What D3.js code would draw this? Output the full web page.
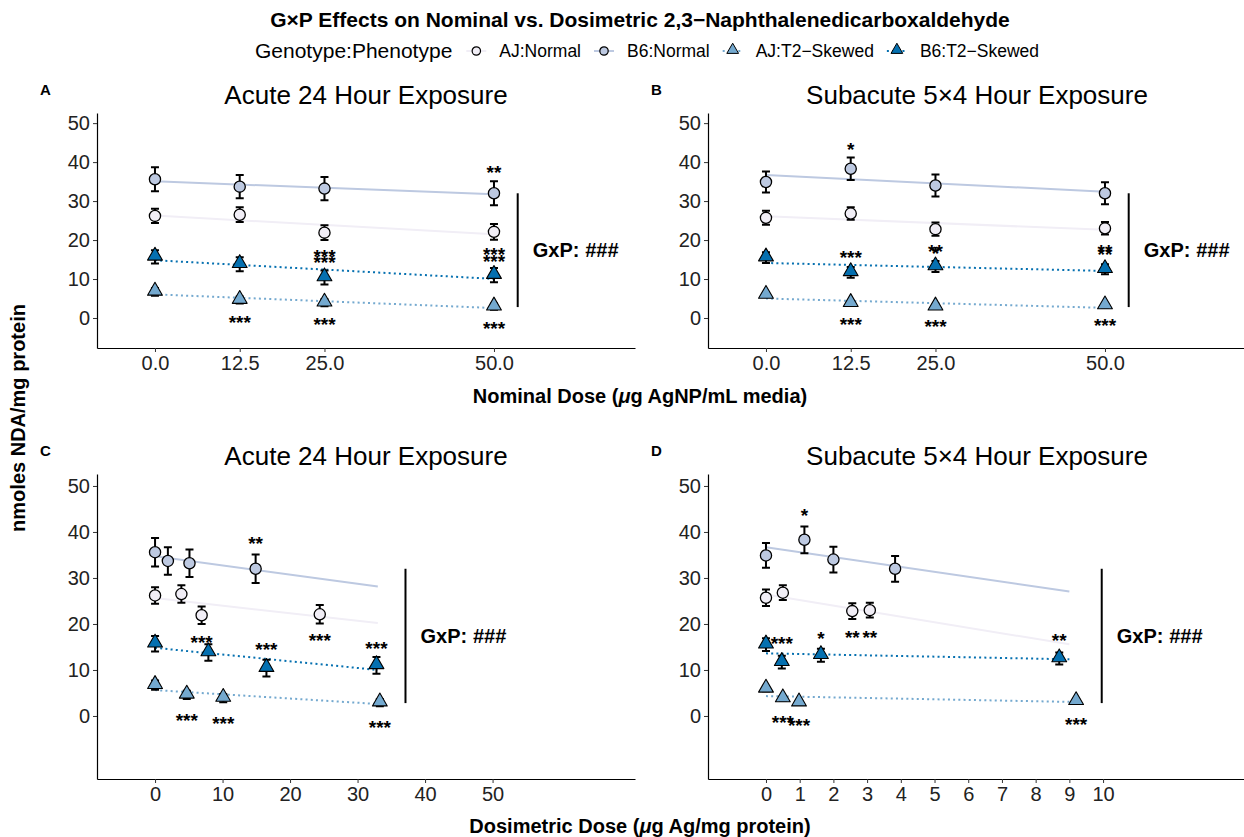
<!DOCTYPE html>
<html>
<head>
<meta charset="utf-8">
<script src="https://cdn.jsdelivr.net/npm/d3@7"></script>
<style>
  body { margin: 0; background: #fff; }
  svg { font-family: "Liberation Sans", Arial, Helvetica, sans-serif; }
</style>
</head>
<body>
<div id="chart"></div>
<script>
// group order: AJ:Normal, B6:Normal, AJ:T2-Skewed, B6:T2-Skewed
var groups = ["AJ:Normal", "B6:Normal", "AJ:T2\u2212Skewed", "B6:T2\u2212Skewed"];
var groupColors = ["#f1eef6", "#bdc9e1", "#74a9cf", "#0570b0"];

var nominalDose = [0, 12.5, 25, 50];
var nominalTicks = [0, 12.5, 25, 50];
var acuteDosTicks = [0, 10, 20, 30, 40, 50];
var subacuteDosTicks = [0, 1, 2, 3, 4, 5, 6, 7, 8, 9, 10];
var yTicks = [0, 10, 20, 30, 40, 50];

// means and standard errors (nmoles NDA/mg protein), one row per group
var acuteMean = [[26.2, 26.5, 21.9, 22.1], [35.6, 33.7, 33.2, 32.0], [6.7, 4.6, 3.9, 2.9], [15.7, 13.8, 10.4, 11.0]];
var acuteSE = [[1.8, 1.9, 1.9, 2.0], [3.1, 3.0, 3.0, 3.1], [1.0, 0.9, 0.9, 0.8], [1.7, 1.8, 1.8, 1.8]];
var subacuteMean = [[25.7, 26.8, 22.8, 23.0], [34.9, 38.3, 34.0, 32.0], [5.9, 3.8, 2.9, 3.2], [15.5, 11.7, 13.2, 12.5]];
var subacuteSE = [[1.8, 1.6, 1.7, 1.6], [2.7, 2.9, 2.8, 2.8], [0.5, 0.5, 0.5, 0.5], [1.4, 1.4, 1.4, 1.3]];

// dosimetric dose (ug Ag/mg protein) for each group at the four nominal doses
var acuteDosimetric = [[0, 3.9, 6.9, 24.4], [0, 1.9, 5.1, 14.9], [0, 4.7, 10.1, 33.3], [0, 7.9, 16.5, 32.8]];
var subacuteDosimetric = [[0, 0.5, 2.56, 3.08], [0, 1.14, 2.0, 3.83], [0, 0.5, 0.98, 9.2], [0, 0.47, 1.63, 8.7]];

// significance labels: [group, dose index, label, y]
var acuteStars = [[1, 3, "**", 38.6], [0, 2, "***", 17.2], [0, 3, "***", 17.6], [3, 2, "***", 15.6], [3, 3, "***", 15.9],
  [2, 1, "***", 0.2], [2, 2, "***", -0.4], [2, 3, "***", -1.3]];
var subacuteStars = [[1, 1, "*", 44.7], [3, 1, "***", 16.8], [3, 2, "*", 18.0], [3, 3, "**", 17.6],
  [0, 2, "**", 18.3], [0, 3, "**", 18.3], [2, 1, "***", -0.2], [2, 2, "***", -0.9], [2, 3, "***", -0.7]];

var bracketY = [2.8, 32];

var W = 1244, H = 837;
var svg = d3.select("#chart").append("svg").attr("width", W).attr("height", H);

var nominalRows = groups.map(function() { return nominalDose; });

var panels = [
  { letter: "A", title: "Acute 24 Hour Exposure", x0: 97, y0: 113, w: 538, h: 235, xDom: [-8.55, 70.8], yDom: [-7.7, 52.6],
    ticks: nominalTicks, fmt: d3.format(".1f"), xs: nominalRows, mean: acuteMean, se: acuteSE, stars: acuteStars, fitEnd: 50, brX: 53.5 },
  { letter: "B", title: "Subacute 5\u00d74 Hour Exposure", x0: 708, y0: 113, w: 538, h: 235, xDom: [-8.55, 70.8], yDom: [-7.7, 52.6],
    ticks: nominalTicks, fmt: d3.format(".1f"), xs: nominalRows, mean: subacuteMean, se: subacuteSE, stars: subacuteStars, fitEnd: 50, brX: 53.5 },
  { letter: "C", title: "Acute 24 Hour Exposure", x0: 97, y0: 474, w: 538, h: 305, xDom: [-8.6, 71.1], yDom: [-13.7, 52.6],
    ticks: acuteDosTicks, fmt: d3.format("d"), xs: acuteDosimetric, mean: acuteMean, se: acuteSE, stars: acuteStars, fitEnd: 33, brX: 37.1 },
  { letter: "D", title: "Subacute 5\u00d74 Hour Exposure", x0: 708, y0: 474, w: 538, h: 305, xDom: [-1.72, 14.24], yDom: [-13.7, 52.6],
    ticks: subacuteDosTicks, fmt: d3.format("d"), xs: subacuteDosimetric, mean: subacuteMean, se: subacuteSE, stars: subacuteStars, fitEnd: 9, brX: 9.96 }
];

function fit(xs, ys) {
  var mx = d3.mean(xs), my = d3.mean(ys);
  var b = d3.sum(xs, function(v, i) { return (v - mx) * (ys[i] - my); }) / d3.sum(xs, function(v) { return (v - mx) * (v - mx); });
  return [my - b * mx, b];
}

var triangle = d3.symbol().type(d3.symbolTriangle).size(95);

function drawPoint(g, gi, px, py) {
  if (gi < 2) {
    g.append("circle").attr("cx", px).attr("cy", py).attr("r", 5.6)
      .attr("fill", groupColors[gi]).attr("stroke", "#000").attr("stroke-width", 1.3);
  } else {
    g.append("path").attr("d", triangle).attr("transform", "translate(" + px + "," + (py - 1) + ")")
      .attr("fill", groupColors[gi]).attr("stroke", "#000").attr("stroke-width", 1.1).attr("stroke-linejoin", "round");
  }
}

panels.forEach(function(p) {
  var x = d3.scaleLinear().domain(p.xDom).range([p.x0, p.x0 + p.w]);
  var y = d3.scaleLinear().domain(p.yDom).range([p.y0 + p.h, p.y0]);
  var g = svg.append("g");

  // axes
  var xAxis = g.append("g").attr("transform", "translate(0," + (p.y0 + p.h) + ")")
    .call(d3.axisBottom(x).tickValues(p.ticks).tickFormat(p.fmt).tickSize(4).tickSizeOuter(0).tickPadding(4));
  var yAxis = g.append("g").attr("transform", "translate(" + p.x0 + ",0)")
    .call(d3.axisLeft(y).tickValues(yTicks).tickSize(4).tickSizeOuter(0).tickPadding(3));
  [xAxis, yAxis].forEach(function(a) {
    a.select(".domain").attr("stroke", "#000").attr("stroke-width", 1.2);
    a.selectAll(".tick line").attr("stroke", "#333").attr("stroke-width", 1);
    a.selectAll(".tick text").attr("font-size", 20).attr("fill", "#222").attr("font-family", null);
  });

  // panel title and letter
  g.append("text").attr("x", p.x0 + p.w / 2).attr("y", p.y0 - 9).attr("text-anchor", "middle")
    .attr("font-size", 26).attr("fill", "#000").text(p.title);
  g.append("text").attr("x", p.x0 - 57).attr("y", p.y0 - 18).attr("font-size", 15).attr("font-weight", "bold").text(p.letter);

  // regression lines
  groups.forEach(function(name, gi) {
    var c = fit(p.xs[gi], p.mean[gi]);
    g.append("line")
      .attr("x1", x(0)).attr("y1", y(c[0]))
      .attr("x2", x(p.fitEnd)).attr("y2", y(c[0] + c[1] * p.fitEnd))
      .attr("stroke", groupColors[gi]).attr("stroke-width", 2)
      .attr("stroke-dasharray", gi < 2 ? null : "2,3.2");
  });

  // error bars then points
  groups.forEach(function(name, gi) {
    p.xs[gi].forEach(function(dx, i) {
      var px = x(dx), lo = y(p.mean[gi][i] - p.se[gi][i]), hi = y(p.mean[gi][i] + p.se[gi][i]);
      g.append("path").attr("d", "M" + (px - 4) + "," + hi + "H" + (px + 4) + "M" + px + "," + hi + "V" + lo + "M" + (px - 4) + "," + lo + "H" + (px + 4))
        .attr("stroke", "#000").attr("stroke-width", 2).attr("fill", "none");
    });
  });
  groups.forEach(function(name, gi) {
    p.xs[gi].forEach(function(dx, i) { drawPoint(g, gi, x(dx), y(p.mean[gi][i])); });
  });

  // significance stars
  p.stars.forEach(function(s) {
    g.append("text").attr("x", x(p.xs[s[0]][s[1]])).attr("y", y(s[3])).attr("dy", "0.62em")
      .attr("text-anchor", "middle").attr("font-size", 19).attr("font-weight", "bold").text(s[2]);
  });

  // GxP bracket
  g.append("line").attr("x1", x(p.brX)).attr("x2", x(p.brX)).attr("y1", y(bracketY[0])).attr("y2", y(bracketY[1]))
    .attr("stroke", "#000").attr("stroke-width", 2);
  var gx = g.append("text").attr("x", x(p.brX) + 15).attr("y", y((bracketY[0] + bracketY[1]) / 2)).attr("dy", "0.35em")
    .attr("font-size", 20).attr("font-weight", "bold");
  gx.append("tspan").text("GxP: ");
  gx.append("tspan").attr("font-style", "italic").text("###");
});

// main title
svg.append("text").attr("x", 640).attr("y", 27).attr("text-anchor", "middle")
  .attr("font-size", 21).attr("font-weight", "bold").text("G\u00d7P Effects on Nominal vs. Dosimetric 2,3\u2212Naphthalenedicarboxaldehyde");

// legend
var leg = svg.append("g").attr("transform", "translate(255,51)");
var lt = leg.append("text").attr("y", 7).attr("font-size", 21).text("Genotype:Phenotype");
var cx = lt.node().getComputedTextLength() + 24;
groups.forEach(function(name, gi) {
  leg.append("line").attr("x1", cx - 10).attr("x2", cx + 10).attr("stroke", groupColors[gi]).attr("stroke-width", 2)
    .attr("stroke-dasharray", gi < 2 ? null : "2,3.2");
  if (gi < 2) {
    leg.append("circle").attr("cx", cx).attr("cy", 0).attr("r", 4.2).attr("fill", groupColors[gi]).attr("stroke", "#000").attr("stroke-width", 1.2);
  } else {
    leg.append("path").attr("d", d3.symbol().type(d3.symbolTriangle).size(60)).attr("transform", "translate(" + cx + ",-1)")
      .attr("fill", groupColors[gi]).attr("stroke", "#000").attr("stroke-width", 1);
  }
  var t = leg.append("text").attr("x", cx + 23).attr("y", 6).attr("font-size", 17.5).text(name);
  cx += 23 + t.node().getComputedTextLength() + 23;
});

// axis titles
function doseLabel(yPos, before, after) {
  var t = svg.append("text").attr("x", 640).attr("y", yPos).attr("text-anchor", "middle")
    .attr("font-size", 20).attr("font-weight", "bold");
  t.append("tspan").text(before);
  t.append("tspan").attr("font-style", "italic").text("\u03bc");
  t.append("tspan").text(after);
}
doseLabel(403, "Nominal Dose (", "g AgNP/mL media)");
doseLabel(833, "Dosimetric Dose (", "g Ag/mg protein)");

svg.append("text").attr("transform", "translate(25,418) rotate(-90)").attr("text-anchor", "middle")
  .attr("font-size", 20).attr("font-weight", "bold").text("nmoles NDA/mg protein");
</script>
</body>
</html>
